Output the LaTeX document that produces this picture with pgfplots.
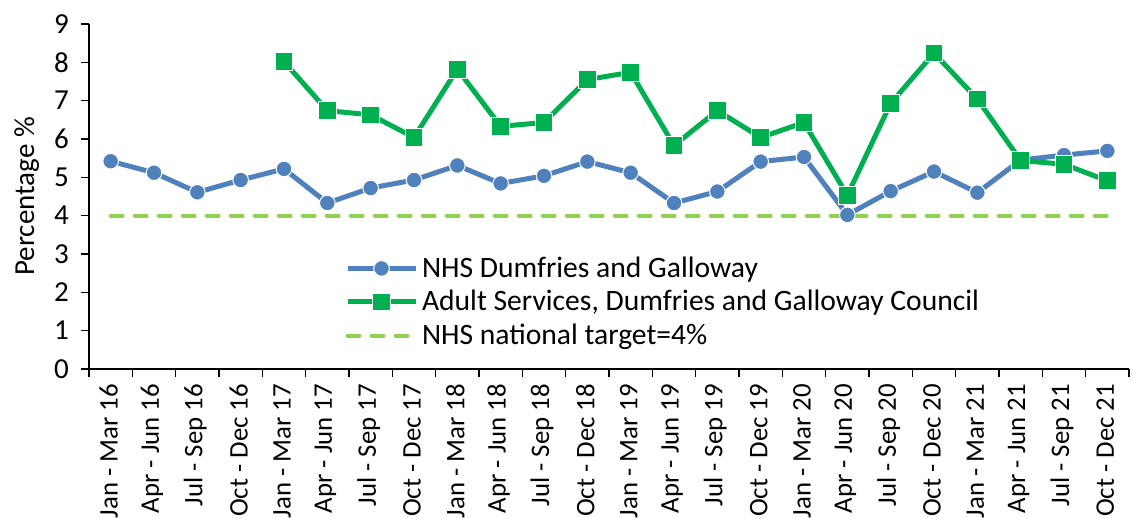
\documentclass[border=0pt]{standalone}
\usepackage{pgfplots}
\pgfplotsset{compat=1.18}
\usepackage{fontspec}
\setmainfont{Carlito}
\definecolor{nhsblue}{RGB}{79,129,189}
\definecolor{adultgreen}{RGB}{0,176,80}
\definecolor{targetgreen}{RGB}{146,208,80}
\begin{document}
\begin{tikzpicture}
\useasboundingbox (-44.5pt,-74.5pt) rectangle (522pt,184.5pt);
\begin{axis}[
  at={(0,0)}, anchor=south west,
  width=520pt, height=172.5pt, scale only axis,
  xmin=-0.5, xmax=23.5, ymin=0, ymax=9,
  axis lines=left, axis line style={-, line width=0.9pt},
  xtick={-0.5,0.5,...,23.5},
  x tick label as interval,
  xticklabels={Jan - Mar 16,Apr - Jun 16,Jul - Sep 16,Oct - Dec 16,Jan - Mar 17,Apr - Jun 17,Jul - Sep 17,Oct - Dec 17,Jan - Mar 18,Apr - Jun 18,Jul - Sep 18,Oct - Dec 18,Jan - Mar 19,Apr - Jun 19,Jul - Sep 19,Oct - Dec 19,Jan - Mar 20,Apr - Jun 20,Jul - Sep 20,Oct - Dec 20,Jan - Mar 21,Apr - Jun 21,Jul - Sep 21,Oct - Dec 21},
  x tick label style={rotate=90, anchor=east, font=\fontsize{13.4}{16}\selectfont, yshift=1pt},
  ytick={0,1,...,9},
  y tick label style={font=\fontsize{14.5}{17}\selectfont, xshift=-2.5pt},
  /pgf/number format/assume math mode=true,
  tick align=outside, major tick length=4pt,
  tick style={black, line width=0.8pt},
  ylabel={Percentage \%},
  ylabel style={at={(axis description cs:-0.06,0.5)}, anchor=center, font=\fontsize{14.5}{17}\selectfont},
  legend style={at={(rel axis cs:0.24,0.35)}, anchor=north west, draw=none, fill=none,
    font=\fontsize{14.8}{17}\selectfont, row sep=1pt, cells={anchor=west}},
  legend image code/.code={\draw[mark repeat=2,mark phase=2] plot coordinates {(0pt,0pt)(17pt,0pt)(34pt,0pt)};},
  clip=false,
]
\addplot[color=nhsblue, line width=2.5pt, mark=*, mark size=3.9pt,
  mark options={fill=nhsblue, draw=white, line width=0.5pt}]
  coordinates {(0,5.42)(1,5.12)(2,4.61)(3,4.93)(4,5.22)(5,4.33)(6,4.72)(7,4.93)(8,5.31)(9,4.84)(10,5.04)(11,5.41)(12,5.12)(13,4.33)(14,4.63)(15,5.41)(16,5.53)(17,4.02)(18,4.64)(19,5.15)(20,4.60)(21,5.45)(22,5.58)(23,5.69)};
\addlegendentry{NHS Dumfries and Galloway}
\addplot[color=adultgreen, line width=2.5pt, mark=square*, mark size=4.4pt,
  mark options={fill=adultgreen, draw=white, line width=0.5pt}]
  coordinates {(4,8.02)(5,6.74)(6,6.63)(7,6.04)(8,7.82)(9,6.33)(10,6.43)(11,7.55)(12,7.74)(13,5.83)(14,6.74)(15,6.04)(16,6.43)(17,4.53)(18,6.93)(19,8.24)(20,7.04)(21,5.44)(22,5.34)(23,4.91)};
\addlegendentry{Adult Services, Dumfries and Galloway Council}
\addplot[color=targetgreen, line width=2pt, line cap=round, dash pattern=on 6pt off 6pt]
  coordinates {(0,4)(1,4)(2,4)(3,4)(4,4)(5,4)(6,4)(7,4)(8,4)(9,4)(10,4)(11,4)(12,4)(13,4)(14,4)(15,4)(16,4)(17,4)(18,4)(19,4)(20,4)(21,4)(22,4)(23,4)};
\addlegendentry{NHS national target=4\%}
\end{axis}
\end{tikzpicture}
\end{document}
